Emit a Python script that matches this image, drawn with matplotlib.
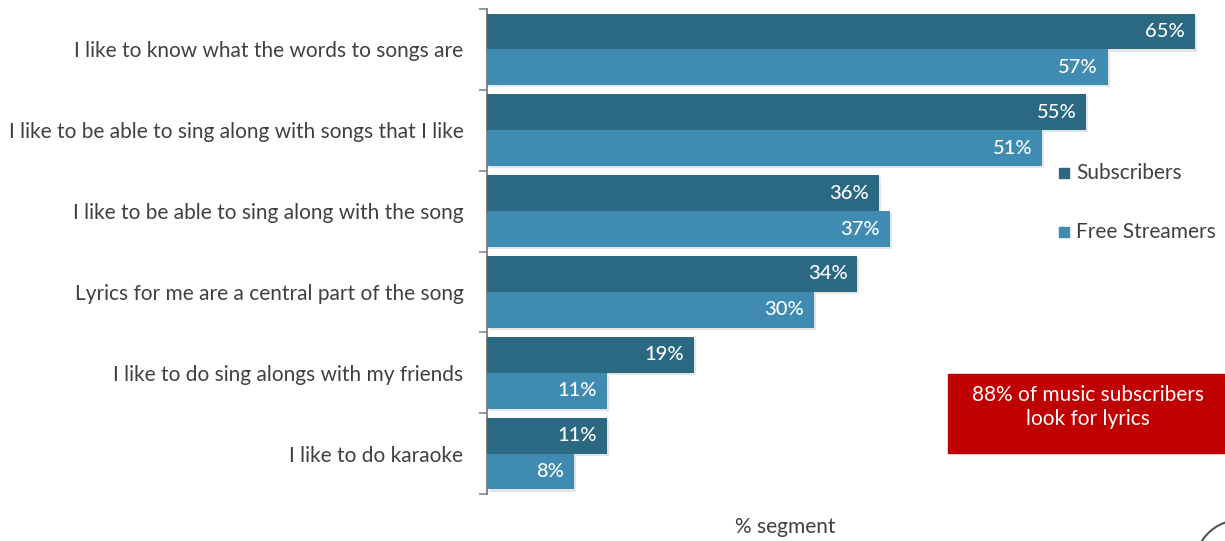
import matplotlib
matplotlib.use("Agg")
import matplotlib.pyplot as plt
import matplotlib.patheffects as pe
from matplotlib.patches import Rectangle, Arc
import numpy as np

categories = [
    "I like to know what the words to songs are",
    "I like to be able to sing along with songs that I like",
    "I like to be able to sing along with the song",
    "Lyrics for me are a central part of the song",
    "I like to do sing alongs with my friends",
    "I like to do karaoke",
]
subscribers = [65, 55, 36, 34, 19, 11]
free_streamers = [57, 51, 37, 30, 11, 8]
series_names = ["Subscribers", "Free Streamers"]
callout = "88% of music subscribers\nlook for lyrics"
xlabel = "% segment"

plt.rcParams['font.family'] = ['Lato', 'DejaVu Sans']

W, H = 1225, 541
fig = plt.figure(figsize=(W / 100, H / 100), dpi=100)

ax_left, ax_right = 487, 1210
ax_top, ax_bot = 9, 494
ax = fig.add_axes([ax_left / W, 1 - ax_bot / H, (ax_right - ax_left) / W, (ax_bot - ax_top) / H])

px_per_unit = 10.89
ax.set_xlim(0, (ax_right - ax_left) / px_per_unit)
ax.set_ylim(len(categories) - 0.5, -0.5)

c_sub = "#2B6882"
c_free = "#408BB2"
h = 0.444
y = np.arange(len(categories))
shadow = [pe.SimplePatchShadow(offset=(1.5, -1.5), shadow_rgbFace="#999999", alpha=0.25), pe.Normal()]
b1 = ax.barh(y - h / 2, subscribers, height=h, color=c_sub, path_effects=shadow, zorder=3)
b2 = ax.barh(y + h / 2, free_streamers, height=h, color=c_free, path_effects=shadow, zorder=3)

for bars, vals in ((b1, subscribers), (b2, free_streamers)):
    for bar, v in zip(bars, vals):
        ax.annotate(f"{v}%", xy=(v, bar.get_y() + bar.get_height() / 2),
                    xytext=(-7, 0), textcoords="offset points",
                    ha="right", va="center", color="white", fontsize=14.5,
                    fontweight="medium", zorder=4)

ax.set_yticks(y)
ax.set_yticklabels(categories, fontsize=15, color="#404040")
ax.tick_params(axis="y", which="major", length=0, pad=17)
ax.set_yticks(np.arange(-0.5, len(categories)), minor=True)
ax.tick_params(axis="y", which="minor", length=6, width=1.2, color="#888888")
ax.set_xticks([])
for s in ("top", "right", "bottom"):
    ax.spines[s].set_visible(False)
ax.spines["left"].set_color("#888888")
ax.spines["left"].set_linewidth(1.5)

fig.text(785 / W, 1 - 527 / H, xlabel, ha="center", va="center", fontsize=15, color="#404040")

# legend
for (name, col, yy) in ((series_names[0], c_sub, 173), (series_names[1], c_free, 232)):
    fig.patches.append(Rectangle((1059 / W, 1 - (yy + 5) / H), 10 / W, 10 / H,
                                 transform=fig.transFigure, color=col, figure=fig))
    fig.text(1076 / W, 1 - yy / H, name, ha="left", va="center", fontsize=15, color="#404040")

# callout box
fig.patches.append(Rectangle((948 / W, 1 - 453 / H), (1225 - 948) / W, (453 - 374) / H,
                             transform=fig.transFigure, color="#C00000", figure=fig))
fig.text(1088 / W, 1 - 407 / H, callout, ha="center", va="center", fontsize=15,
         color="white", linespacing=1.25)

# decorative arc bottom-right
fig.patches.append(Arc((1240 / W, 1 - 565 / H), 90 / W, 90 / H, transform=fig.transFigure,
                       color="#555555", lw=1.5, figure=fig))

fig.savefig("out.png", dpi=100)
